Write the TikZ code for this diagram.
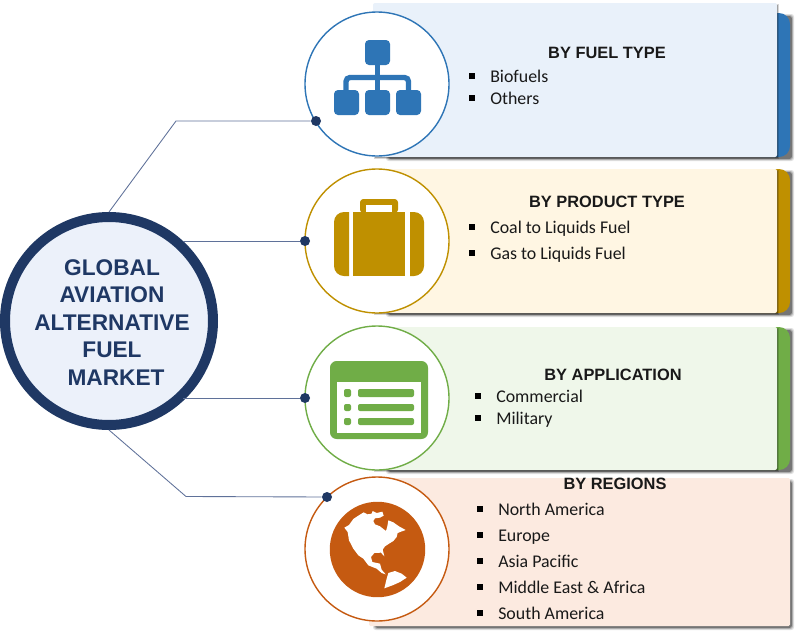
\documentclass[tikz,border=0pt]{standalone}
\usepackage{fontspec}
\setmainfont{Carlito}
\newfontfamily\headfont{Liberation Sans}
\definecolor{navy}{HTML}{1F3864}
\definecolor{mainfill}{HTML}{ECF1FA}
\definecolor{linkc}{HTML}{5F7199}
\definecolor{blueD}{HTML}{2E75B6}
\definecolor{blueL}{HTML}{E9F1FA}
\definecolor{goldD}{HTML}{BF9000}
\definecolor{goldL}{HTML}{FFF6E3}
\definecolor{greenD}{HTML}{70AD47}
\definecolor{greenL}{HTML}{EFF7EA}
\definecolor{orangeD}{HTML}{C55A11}
\definecolor{orangeL}{HTML}{FCEAE0}
\tikzset{
  link/.style={draw=linkc,line width=.65pt},
  dotnode/.style={circle,fill=navy,inner sep=0pt,minimum size=7.5pt},
  ring/.style={circle,fill=white,draw=#1,line width=1.05pt,inner sep=0pt,minimum size=108pt},
  heading/.style={font=\headfont\bfseries\fontsize{12.3}{14}\selectfont,text=black!90,inner sep=0pt},
  item/.style={font=\fontsize{13.4}{15}\selectfont,text=black!90,anchor=west,inner sep=0pt,text height=9pt,text depth=3pt},
  bulletmark/.style={fill=black,inner sep=0pt,minimum size=4.2pt},
}
\newcommand{\softshadow}[4]{%
  \foreach \e/\o in {1.5/.12,.5/.20,-.5/.35}{
    \fill[black,opacity=\o,rounded corners=2pt] ({#1+2.5-\e},{#2+2.5-\e}) rectangle ({#3+2.5+\e},{#4+2.5+\e});
  }}
\newcommand{\thinshadow}[4]{%
  \foreach \e/\o in {.5/.16,-.5/.30}{
    \fill[black,opacity=\o] ({#1+1.5-\e},{#2+1.5-\e}) rectangle ({#3+1.5+\e},{#4+1.5+\e});
  }}
\newcommand{\barshape}[4]{%
  ({#1},{#2}) -- ({#3-11},{#2}) arc[start angle=90,end angle=0,radius=8.25pt] -- ({#3},{#4-11}) arc[start angle=0,end angle=-90,radius=8.25pt] -- ({#1},{#4}) -- cycle}
\begin{document}
\begin{tikzpicture}[x=.75pt,y=-.75pt]
\useasboundingbox (0,0) rectangle (800,636);
% --- panels
\softshadow{385}{13}{790}{157}
\fill[blueD] \barshape{760}{13}{790}{157};
\thinshadow{373}{3}{777}{157}
\fill[blueL,rounded corners=1.5pt] (373,3) rectangle (777,157);
\softshadow{385}{169}{790}{313}
\fill[goldD] \barshape{760}{169}{790}{313};
\thinshadow{373}{169}{777}{313}
\fill[goldL,rounded corners=1.5pt] (373,169) rectangle (777,313);
\softshadow{385}{327}{790}{470}
\fill[greenD] \barshape{760}{327}{790}{470};
\thinshadow{373}{327}{777}{470}
\fill[greenL,rounded corners=1.5pt] (373,327) rectangle (777,470);
\softshadow{372}{478}{790}{626}
\fill[orangeL,rounded corners=1pt] (369,478) rectangle (790,626);
% --- nodes
\node[ring=blueD] (c1) at (377,84) {};
\node[ring=goldD] (c2) at (377,241) {};
\node[ring=greenD] (c3) at (377,398) {};
\node[ring=orangeD] (c4) at (377,549) {};
\node[circle,inner sep=0pt,minimum size=156pt,draw=navy,line width=7.5pt,fill=mainfill] (main) at (109,321) {};
\node[dotnode] (dot1) at (316,121) {};
\node[dotnode] (dot2) at (305,241) {};
\node[dotnode] (dot3) at (305,398) {};
\node[dotnode] (dot4) at (327,497) {};
\coordinate (bend1) at (176,121);
\coordinate (bend4) at (186,496.5);
\draw[link] (main.north) -- (bend1) -- (dot1);
\draw[link] (main.47 |- dot2) -- (dot2);
\draw[link] (main.-47 |- dot3) -- (dot3);
\draw[link] (main.south) -- (bend4) -- (dot4);
\node[font=\headfont\bfseries\fontsize{17}{20.6}\selectfont,text=navy,align=center,inner sep=0pt] (title) at (112,322.5)
  {GLOBAL\\AVIATION\\ALTERNATIVE\\FUEL\\\hspace*{6pt}MARKET};
% --- icon: hierarchy
\fill[blueD,rounded corners=3pt] (365,40) rectangle (390,65);
\fill[blueD,rounded corners=3pt] (334,90) rectangle (359,115);
\fill[blueD,rounded corners=3pt] (365,90) rectangle (390,115);
\fill[blueD,rounded corners=3pt] (396,90) rectangle (421,115);
\draw[blueD,line width=4pt,rounded corners=3pt] (346,91) -- (346,77.5) -- (408.5,77.5) -- (408.5,91);
\draw[blueD,line width=4pt] (377.5,64) -- (377.5,91);
% --- icon: briefcase
\fill[goldD] (349,212) -- (344,212) arc[start angle=90,end angle=180,radius=7.5pt] -- (334,266) arc[start angle=180,end angle=270,radius=7.5pt] -- (349,276) -- cycle;
\fill[goldD] (353,212) rectangle (405,276);
\fill[goldD] (410,212) -- (414,212) arc[start angle=90,end angle=0,radius=7.5pt] -- (424,266) arc[start angle=0,end angle=-90,radius=7.5pt] -- (410,276) -- cycle;
\fill[goldD,rounded corners=2.5pt] (360,213) -- (360,199) -- (398,199) -- (398,213) -- cycle;
\fill[white] (366,205) rectangle (392,212);
% --- icon: table
\fill[greenD,rounded corners=5pt] (330,361) rectangle (428,439);
\fill[white] (337,382) rectangle (421,433);
\foreach \a/\b in {389/397,404/411,418/425}{
  \fill[greenD,rounded corners=1.5pt] (344,\a) rectangle (351,\b);
  \fill[greenD,rounded corners=1.5pt] (358,\a) rectangle (414,\b);
}
% --- icon: globe
\fill[orangeD] (377.5,549.5) circle[radius=35.8pt];
\begin{scope}[shift={(325,497)},x=.25pt,y=-.25pt]
\fill[white] (58,92) -- (72,84) -- (85,66) -- (100,56) -- (116,46) -- (128,52) -- (140,50) -- (143,42) -- (155,48) -- (172,44) -- (176,56) -- (165,62) -- (150,64) -- (145,72) -- (150,82) -- (165,88) -- (183,102) -- (187,88) -- (190,70) -- (205,76) -- (222,88) -- (242,99) -- (228,104) -- (218,108) -- (215,120) -- (205,132) -- (192,140) -- (180,148) -- (173,158) -- (178,178) -- (168,167) -- (148,168) -- (138,180) -- (142,195) -- (165,200) -- (170,218) -- (182,232) -- (170,228) -- (155,215) -- (130,205) -- (115,185) -- (100,175) -- (85,155) -- (72,130) -- (68,105) -- cycle;
\fill[white] (178,274) -- (185,245) -- (190,228) -- (210,222) -- (230,230) -- (245,242) -- (225,255) -- (205,264) -- cycle;
\end{scope}
% --- panel text
\node[heading] (h1) at (607,53) {BY FUEL TYPE};
\node[heading] (h2) at (607,202) {BY PRODUCT TYPE};
\node[heading] (h3) at (613,375) {BY APPLICATION};
\node[heading] (h4) at (615,484) {BY REGIONS};
\foreach \n/\bx/\tx/\ty/\txt in {
  a1/472/490/76/Biofuels,
  a2/472/490/98/Others,
  b1/472/490/227/Coal to Liquids Fuel,
  b2/472/490/253/Gas to Liquids Fuel,
  g1/478/496/396/Commercial,
  g2/478/496/418/Military,
  r1/480/498/509/North America,
  r2/480/498/535/Europe,
  r3/480/498/561/Asia Pacific,
  r4/480/498/587/Middle East \& Africa,
  r5/480/498/613/South America}{
  \node[bulletmark] (m\n) at (\bx,\ty) {};
  \node[item] (t\n) at (\tx,\ty+2.2) {\txt};
}
\end{tikzpicture}
\end{document}
